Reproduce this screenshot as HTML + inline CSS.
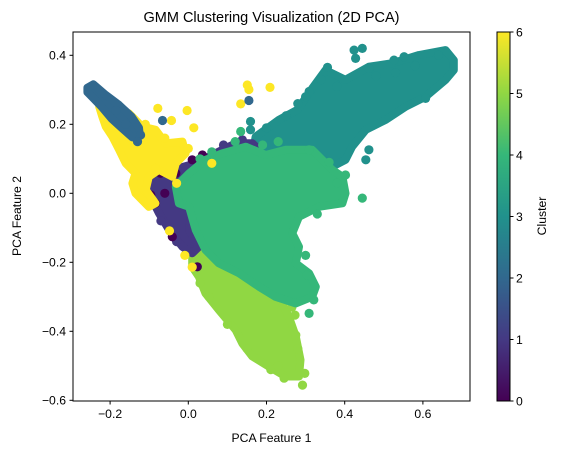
<!DOCTYPE html>
<html><head><meta charset="utf-8"><style>
html,body{margin:0;padding:0;background:#fff;}
svg{display:block;font-family:"Liberation Sans","DejaVu Sans",sans-serif;}
</style></head><body>
<svg id="chart" width="561" height="455" xmlns="http://www.w3.org/2000/svg">
<defs>
<linearGradient id="viridis" x1="0" y1="1" x2="0" y2="0">
<stop offset="0" stop-color="#440154"/><stop offset="0.1667" stop-color="#443983"/><stop offset="0.3333" stop-color="#31688e"/><stop offset="0.5" stop-color="#21918c"/><stop offset="0.6667" stop-color="#35b779"/><stop offset="0.8333" stop-color="#90d743"/><stop offset="1" stop-color="#fde725"/>
</linearGradient>
<clipPath id="plotclip"><rect x="73" y="32" width="397" height="369"/></clipPath>
</defs>
<text x="271.5" y="22" font-size="14.5" text-anchor="middle">GMM Clustering Visualization (2D PCA)</text>
<g id="marks" clip-path="url(#plotclip)"></g>
<rect x="73" y="32" width="397" height="369" fill="none" stroke="#000" stroke-width="1"/>
<g id="xticks"></g>
<g id="yticks"></g>
<text x="271.5" y="442" font-size="12.2" text-anchor="middle">PCA Feature 1</text>
<text x="21" y="216" font-size="12.2" text-anchor="middle" transform="rotate(-90 21 216)">PCA Feature 2</text>
<rect x="497" y="32" width="13" height="369" fill="url(#viridis)" stroke="#000" stroke-width="1"/>
<g id="cticks"></g>
<text x="546" y="216" font-size="12.2" text-anchor="middle" transform="rotate(-90 546 216)">Cluster</text>
</svg>
<script>
const clusterColors = ["#440154","#443983","#31688e","#21918c","#35b779","#90d743","#fde725"];
const xTicks = [-0.2, 0.0, 0.2, 0.4, 0.6];
const yTicks = [0.4, 0.2, 0.0, -0.2, -0.4, -0.6];
const cbTicks = [0,1,2,3,4,5,6];
const drawOrder = [3,5,1,0,4,6,2];
const hull3x = [0.679,0.658,0.590,0.522,0.462,0.402,0.351,0.317,0.279,0.232,0.172,0.164,0.232,0.317,0.368,0.402,0.419,0.454,0.505,0.556,0.607,0.658,0.679];
const hull3y = [0.386,0.415,0.401,0.377,0.367,0.329,0.357,0.304,0.242,0.213,0.164,0.106,0.087,0.068,0.077,0.097,0.135,0.184,0.213,0.251,0.280,0.329,0.357];
const hull4x = [0.044,0.087,0.147,0.198,0.249,0.317,0.368,0.394,0.402,0.394,0.334,0.283,0.266,0.283,0.275,0.309,0.326,0.317,0.275,0.223,0.181,0.130,0.078,0.044,0.019,0.002,-0.024,-0.032,0.002];
const hull4y = [0.097,0.116,0.135,0.111,0.126,0.126,0.068,0.048,0.000,-0.029,-0.039,-0.068,-0.116,-0.155,-0.203,-0.232,-0.271,-0.300,-0.319,-0.300,-0.271,-0.232,-0.203,-0.164,-0.106,-0.039,-0.029,0.019,0.058];
const hull5x = [0.010,0.061,0.121,0.181,0.232,0.257,0.275,0.287,0.283,0.249,0.206,0.164,0.138,0.121,0.078,0.044,0.027,0.010];
const hull5y = [-0.184,-0.155,-0.203,-0.261,-0.300,-0.357,-0.415,-0.483,-0.531,-0.531,-0.502,-0.473,-0.435,-0.396,-0.338,-0.290,-0.242,-0.213];
const hull1x = [0.019,0.087,0.121,0.164,0.181,0.104,0.061,0.010,0.002,0.027,0.010,-0.015,-0.049,-0.075,-0.096,-0.109,-0.092,-0.041];
const hull1y = [0.087,0.126,0.145,0.145,0.126,0.048,0.019,-0.019,-0.106,-0.155,-0.174,-0.155,-0.106,-0.058,-0.010,0.019,0.048,0.068];
const hull2x = [-0.258,-0.243,-0.211,-0.177,-0.145,-0.126,-0.124,-0.143,-0.169,-0.196,-0.222,-0.246,-0.258];
const hull2y = [0.306,0.316,0.285,0.256,0.222,0.190,0.168,0.162,0.188,0.216,0.251,0.279,0.293];
const hull6x = [-0.228,-0.194,-0.152,-0.118,-0.084,-0.058,-0.015,-0.007,-0.032,-0.041,-0.075,-0.101,-0.109,-0.084,-0.101,-0.135,-0.143,-0.135,-0.160,-0.177,-0.194,-0.211,-0.220];
const hull6y = [0.251,0.242,0.232,0.193,0.184,0.145,0.150,0.116,0.087,0.048,0.068,0.048,0.010,-0.029,-0.039,0.000,0.029,0.058,0.087,0.126,0.164,0.193,0.222];
const hull0x = [];
const hull0y = [];
const pts0x = [-0.143,-0.122,-0.096,-0.032,0.036,0.010,-0.024,-0.084,-0.041,0.023,0.019,-0.071,-0.130,-0.110,-0.060];
const pts0y = [0.082,0.029,-0.005,0.058,0.111,0.097,0.019,-0.029,-0.126,-0.213,-0.101,0.058,0.043,0.070,0.000];
const pts1x = [0.117,0.138,0.150,0.090,-0.070,-0.030];
const pts1y = [0.111,0.155,0.130,0.140,-0.080,-0.140];
const pts2x = [0.155,-0.066,-0.122,-0.130,-0.160,-0.185];
const pts2y = [0.269,0.211,0.169,0.150,0.200,0.240];
const pts3x = [0.424,0.445,0.428,0.526,0.552,0.462,0.356,0.462,0.454,0.159,0.159,0.309,0.607,0.280,0.300,0.250,0.200,0.340,0.380,0.480,0.530,0.580,0.640];
const pts3y = [0.415,0.420,0.391,0.386,0.396,0.362,0.365,0.126,0.097,0.208,0.184,0.295,0.275,0.260,0.280,0.225,0.190,0.330,0.310,0.340,0.350,0.370,0.400];
const pts4x = [0.445,0.321,0.309,0.304,0.134,0.309,0.402,0.360,0.380,0.330,0.300,0.120,0.060,0.030,0.230,0.190];
const pts4y = [-0.014,-0.309,-0.348,-0.237,0.179,0.126,0.053,0.090,0.030,-0.060,-0.180,0.150,0.120,0.100,0.150,0.140];
const pts5x = [0.211,0.245,0.292,0.298,0.273,0.275,0.053,0.181,0.265,0.280,0.230,0.150,0.100,0.030];
const pts5y = [-0.511,-0.536,-0.556,-0.522,-0.353,-0.411,-0.300,-0.106,-0.330,-0.450,-0.500,-0.450,-0.380,-0.260];
const pts6x = [0.151,0.155,0.209,0.134,-0.078,-0.003,0.014,-0.043,0.060,-0.030,-0.048,-0.009,0.010,-0.247,-0.084,-0.110,-0.060,0.000];
const pts6y = [0.314,0.301,0.307,0.259,0.246,0.240,0.190,0.211,0.087,0.029,-0.109,-0.180,-0.214,0.298,0.072,0.200,0.160,0.130];

const hullsX=[hull0x,hull1x,hull2x,hull3x,hull4x,hull5x,hull6x];
const hullsY=[hull0y,hull1y,hull2y,hull3y,hull4y,hull5y,hull6y];
const ptsX=[pts0x,pts1x,pts2x,pts3x,pts4x,pts5x,pts6x];
const ptsY=[pts0y,pts1y,pts2y,pts3y,pts4y,pts5y,pts6y];

const NS="http://www.w3.org/2000/svg";
function sx(v){return 188.3+v*391;}
function sy(v){return 193.3-v*345;}
function cy(v){return 401-v*(369/6);}
const marks=document.getElementById('marks');
drawOrder.forEach(function(c){
  const hx=hullsX[c], hy=hullsY[c];
  if(hx.length){
    const poly=document.createElementNS(NS,'polygon');
    poly.setAttribute('points',hx.map(function(v,i){return sx(v).toFixed(1)+','+sy(hy[i]).toFixed(1);}).join(' '));
    poly.setAttribute('fill',clusterColors[c]);
    poly.setAttribute('stroke',clusterColors[c]);
    poly.setAttribute('stroke-width','8');
    poly.setAttribute('stroke-linejoin','round');
    
    
    marks.appendChild(poly);
  }
  const px=ptsX[c], py=ptsY[c];
  px.forEach(function(v,i){
    const ci=document.createElementNS(NS,'circle');
    ci.setAttribute('cx',sx(v).toFixed(1));
    ci.setAttribute('cy',sy(py[i]).toFixed(1));
    ci.setAttribute('r','4.6');
    ci.setAttribute('fill',clusterColors[c]);
    
    
    marks.appendChild(ci);
  });
});
const xg=document.getElementById('xticks');
xTicks.forEach(function(t){
  const x=sx(t);
  const l=document.createElementNS(NS,'line');
  l.setAttribute('x1',x);l.setAttribute('x2',x);l.setAttribute('y1',401);l.setAttribute('y2',404.5);l.setAttribute('stroke','#000');
  
  
  xg.appendChild(l);
  const tx=document.createElementNS(NS,'text');
  tx.setAttribute('x',x);tx.setAttribute('y',418);tx.setAttribute('font-size','12.2');tx.setAttribute('text-anchor','middle');
  tx.textContent=(t<0?'\u2212':'')+Math.abs(t).toFixed(1);
  
  
  xg.appendChild(tx);
});
const yg=document.getElementById('yticks');
yTicks.forEach(function(t){
  const y=sy(t);
  const l=document.createElementNS(NS,'line');
  l.setAttribute('x1',69.5);l.setAttribute('x2',73);l.setAttribute('y1',y);l.setAttribute('y2',y);l.setAttribute('stroke','#000');
  
  
  yg.appendChild(l);
  const tx=document.createElementNS(NS,'text');
  tx.setAttribute('x',66);tx.setAttribute('y',y+4.3);tx.setAttribute('font-size','12.2');tx.setAttribute('text-anchor','end');
  tx.textContent=(t<0?'\u2212':'')+Math.abs(t).toFixed(1);
  
  
  yg.appendChild(tx);
});
const cg=document.getElementById('cticks');
cbTicks.forEach(function(t){
  const y=cy(t);
  const l=document.createElementNS(NS,'line');
  l.setAttribute('x1',510);l.setAttribute('x2',513.5);l.setAttribute('y1',y);l.setAttribute('y2',y);l.setAttribute('stroke','#000');
  
  
  cg.appendChild(l);
  const tx=document.createElementNS(NS,'text');
  tx.setAttribute('x',516);tx.setAttribute('y',y+4.3);tx.setAttribute('font-size','12.2');
  tx.textContent=String(t);
  
  
  cg.appendChild(tx);
});
</script>
</body></html>
